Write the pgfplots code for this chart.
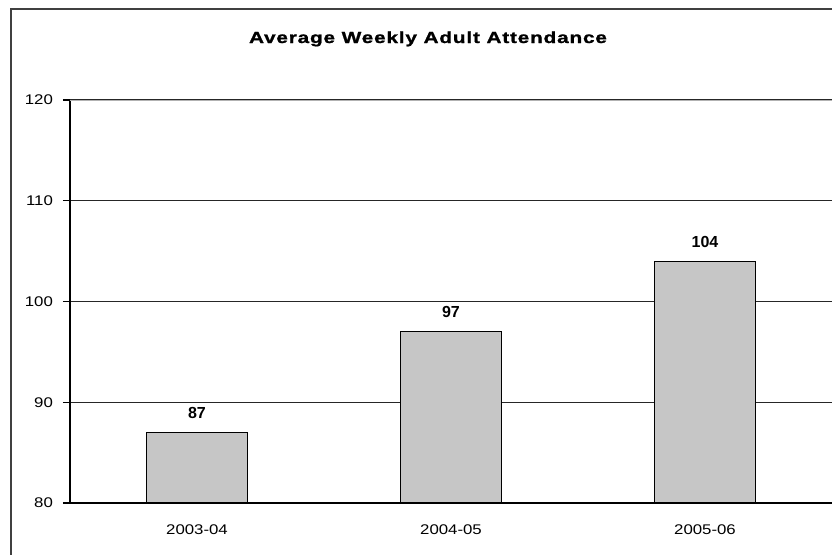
\documentclass[border=0pt]{standalone}
\usepackage{fontspec}
\setmainfont{Liberation Sans}
\usepackage{pgfplots}
\pgfplotsset{compat=1.18}
\begin{document}
\begin{tikzpicture}[x=0.5pt,y=0.5pt]
\useasboundingbox (-70,-51) rectangle (762,503);
\draw[line width=0.8pt, black!75] (-59,-80) -- (-59,494) -- (800,494);
\node[anchor=base, inner sep=0pt, font=\bfseries\fontsize{8}{10}\selectfont\addfontfeatures{FakeStretch=1.3,LetterSpace=5,FakeBold=1.2}] at (358,460) {Average Weekly Adult Attendance};
\begin{axis}[
  at={(0,0)}, anchor=south west, scale only axis,
  width=381pt, height=201.5pt,
  xmin=-0.5, xmax=2.5, ymin=80, ymax=120,
  ytick={80,90,100,110,120},
  xtick={0,1,2}, xticklabels={2003-04,2004-05,2005-06},
  axis lines*=left,
  axis line style={black, line width=0.6pt},
  ymajorgrids, grid style={black!85, line width=0.6pt},
  ytick pos=left, tick align=outside,
  major tick length=3.5pt,
  major x tick style={draw=none},
  tick style={black, line width=0.6pt},
  ticklabel style={font=\fontsize{7}{8}\selectfont\addfontfeatures{FakeStretch=1.2}},
  /pgf/number format/assume math mode=true,
  yticklabel style={xshift=-1.5pt},
  xticklabel style={yshift=-4pt},
  ybar, bar width=50.5pt,
  nodes near coords,
  nodes near coords style={font=\bfseries\fontsize{8}{10}\selectfont, anchor=base, inner sep=0pt, yshift=7pt},
]
\addplot[fill=gray!45, draw=black, line width=0.6pt] coordinates {(0,87) (1,97) (2,104)};
\draw[gray!60, line width=0.6pt] (axis cs:-0.5,120) -- (axis cs:2.5,120);
\end{axis}
\end{tikzpicture}
\end{document}
